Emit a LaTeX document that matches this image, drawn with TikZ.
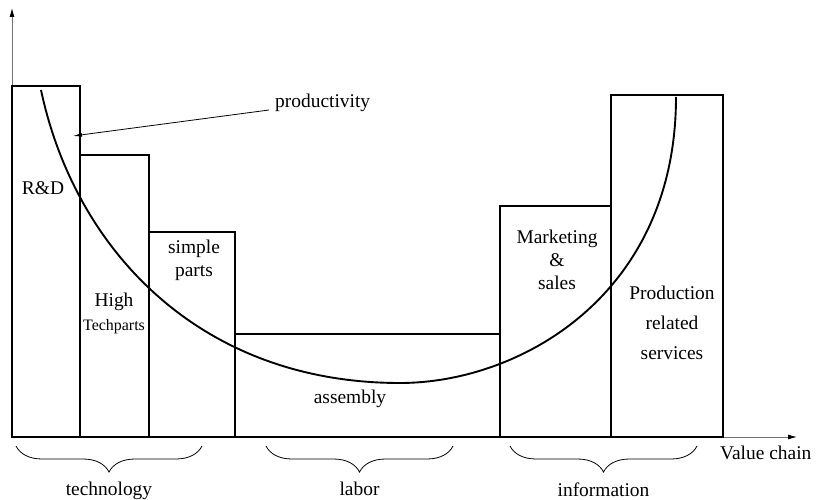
\documentclass[tikz,border=0pt]{standalone}
\usepackage{fontspec}
\setmainfont{Liberation Serif}
\usetikzlibrary{arrows.meta,decorations.pathreplacing}

\tikzset{
  bar/.style={draw=black,line width=1.9pt},
  axis/.style={draw=black!55,line width=0.9pt,-{Latex[length=9pt,width=5pt,color=black]}},
  txt/.style={font=\rmfamily\fontsize{19.5}{23}\selectfont,align=center,inner sep=0pt},
  smalltxt/.style={font=\rmfamily\fontsize{16}{20}\selectfont,align=center,inner sep=0pt},
  group/.style={decorate,decoration={brace,mirror,amplitude=26bp},line width=0.8pt}
}

\begin{document}
\begin{tikzpicture}[x=1bp,y=-1bp]
\useasboundingbox (0,0) rectangle (817,500);

\coordinate (O) at (12,437);
\coordinate (ytop) at (12,8);
\coordinate (xend) at (797,437);

\draw[axis] (O) -- (ytop);
\draw[axis] (O) -- (xend);

\draw[bar] (12,437) rectangle (80,86);
\draw[bar] (80,437) rectangle (149,155);
\draw[bar] (149,437) rectangle (235,232);
\draw[bar] (235,437) rectangle (500,334);
\draw[bar] (500,437) rectangle (611,206);
\draw[bar] (611,437) rectangle (723,95);
\draw[line width=1.9pt] (12,437) -- (723,437);

\draw[line width=1.9pt] (41,90) .. controls (75,250) and (200,383) .. (400,383)
  .. controls (520,383) and (676,295) .. (676,97);

\node[txt] (rd) at (43,188) {R\&D};
\node[txt] (high) at (114,302) {High};
\node[smalltxt] (tech) at (114,327) {Techparts};
\node[txt] (simple) at (194,260) {simple\\parts};
\node[txt] (assembly) at (350,399) {assembly};
\node[txt] (market) at (557,260) {Marketing\\\&\\sales};
\node[txt] (prodserv) at (672,323) {Production\\[7bp]related\\[7bp]services};

\node[txt,anchor=west] (prod) at (275,103) {productivity};
\coordinate (hit) at (73,136);
\draw[line width=0.8pt,-{Latex[length=9pt,width=4pt]}] (prod.west) ++(-6,7) -- (hit);

\coordinate (t1) at (16,446);
\coordinate (t2) at (202,446);
\coordinate (l1) at (266,446);
\coordinate (l2) at (453,446);
\coordinate (i1) at (510,446);
\coordinate (i2) at (697,446);
\draw[group] (t1) -- (t2) node[midway,below=36bp,txt] (techn) {technology};
\draw[group] (l1) -- (l2) node[midway,below=36bp,txt] (labor) {labor};
\draw[group] (i1) -- (i2) node[midway,below=36bp,txt] (info) {information};

\node[txt,anchor=west] (chain) at (720,453) {Value chain};
\end{tikzpicture}
\end{document}
